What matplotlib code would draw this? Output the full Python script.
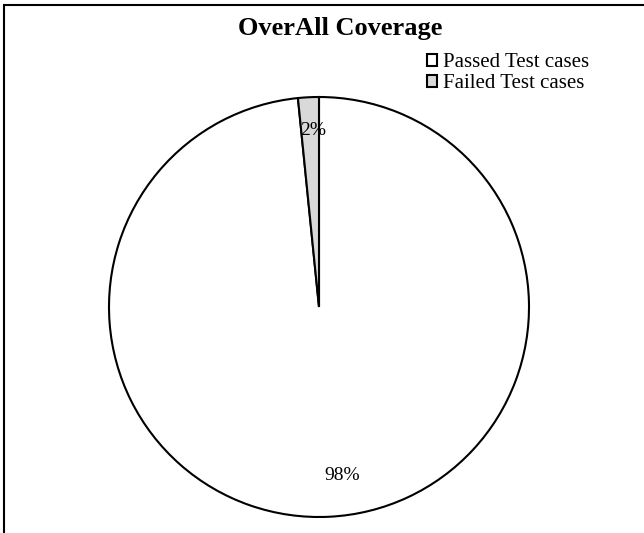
import matplotlib.pyplot as plt
from matplotlib.patches import Rectangle

labels = ['Passed Test cases', 'Failed Test cases']
values = [98.4, 1.6]
colors = ['white', '#d9d9d9']

plt.rcParams['font.family'] = ['Liberation Serif', 'DejaVu Serif']

fig = plt.figure(figsize=(6.44, 5.33), dpi=100)
W, H = 644, 533

# chart frame (only left and top edges fall inside the picture)
fig.add_artist(Rectangle((4 / W, -0.1), 1.2, (H - 5) / H + 0.1, transform=fig.transFigure,
                         fill=False, edgecolor='black', linewidth=1.5))

# pie centred at (319, 307) px, radius ~210 px
cx, cy, r = 319, 307, 210
ax = fig.add_axes([(cx - r) / W, (H - cy - r) / H, 2 * r / W, 2 * r / H])
wedges, texts, autotexts = ax.pie(values, colors=colors, startangle=90, counterclock=False,
                                  autopct='%.0f%%', pctdistance=0.9,
                                  wedgeprops=dict(edgecolor='black', linewidth=1.5),
                                  textprops=dict(fontsize=14))
ax.set_xlim(-1, 1)
ax.set_ylim(-1, 1)
ax.set_aspect('equal')
autotexts[0].set_position((0.11, -0.80))
autotexts[1].set_position((-0.03, 0.84))

fig.text(340 / W, 1 - 29 / H, 'OverAll Coverage', ha='center', va='center',
         fontsize=19, fontweight='bold')

fig.legend(wedges, labels, loc='upper left', bbox_to_anchor=(427 / W, 1 - 53 / H),
           frameon=False, fontsize=15, handlelength=0.5, handleheight=0.5,
           handletextpad=0.25, labelspacing=0.12, borderaxespad=0, borderpad=0)

fig.savefig('out.png', dpi=100)
